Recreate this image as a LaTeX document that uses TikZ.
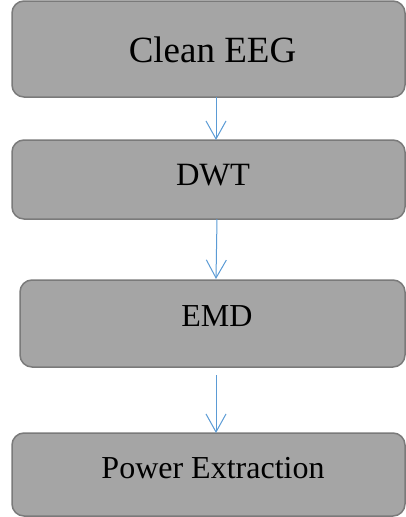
\documentclass[tikz,border=0pt]{standalone}
\usepackage{fontspec}
\setmainfont{Liberation Serif}
\usetikzlibrary{arrows.meta}
\definecolor{boxfill}{HTML}{A5A5A5}
\definecolor{boxline}{HTML}{7A7A7A}
\definecolor{flowblue}{HTML}{5B9BD5}
\tikzset{
  stagebox/.style={draw=boxline, fill=boxfill, line width=1.5pt, rounded corners=12pt,
    inner sep=0pt, outer sep=0pt},
  stagetext/.style={anchor=base, inner sep=0pt, text=black},
  flow/.style={draw=flowblue, line width=1pt, -{Straight Barb[length=18pt,width=20pt,line width=1pt]}}
}
\begin{document}
\begin{tikzpicture}[x=1pt,y=-1pt]
  \useasboundingbox (0,0) rectangle (406,517);
  % processing stages
  \node[stagebox, minimum width=393pt, minimum height=96pt] (b1) at (208.5,49) {};
  \node[stagebox, minimum width=393pt, minimum height=79pt] (b2) at (208.5,179.5) {};
  \node[stagebox, minimum width=385pt, minimum height=87pt] (b3) at (212.5,323.5) {};
  \node[stagebox, minimum width=393pt, minimum height=83pt] (b4) at (208.5,474.5) {};
  % stage labels
  \node[stagetext, font=\fontsize{37}{40}\selectfont] (t1) at (212.5,62) {Clean EEG};
  \node[stagetext, font=\fontsize{32.5}{36}\selectfont] (t2) at (213,185) {DWT};
  \node[stagetext, font=\fontsize{32}{36}\selectfont] (t3) at (217,326) {EMD};
  \node[stagetext, font=\fontsize{32}{36}\selectfont] (t4) at (213,478) {Power Extraction};
  % connectors
  \coordinate (ax) at (216,0);
  \coordinate (bx) at (217,0);
  \draw[flow] (b1.south -| ax) -- (b2.north -| ax);
  \draw[flow] (b2.south -| bx) -- ([yshift=1pt]b3.north -| ax);
  \draw[flow] ([yshift=-8pt]b3.south -| ax) -- (b4.north -| ax);
\end{tikzpicture}
\end{document}
